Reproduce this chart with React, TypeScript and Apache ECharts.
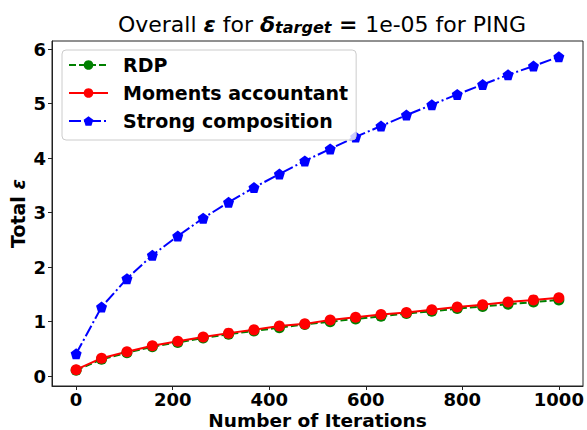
import React, { useEffect, useRef } from "react";
import * as echarts from "echarts";

// Iteration counts (20 evenly spaced steps from 0 to 1000)
const iterations = [
  0, 52.63, 105.26, 157.89, 210.53, 263.16, 315.79, 368.42, 421.05, 473.68,
  526.32, 578.95, 631.58, 684.21, 736.84, 789.47, 842.11, 894.74, 947.37, 1000,
];

// Total epsilon per accountant
const rdp = [
  0.11, 0.31, 0.43, 0.54, 0.62, 0.7, 0.77, 0.83, 0.89, 0.95, 1.0, 1.05, 1.1,
  1.15, 1.19, 1.24, 1.28, 1.32, 1.36, 1.4,
];
const moments = [
  0.12, 0.33, 0.45, 0.56, 0.64, 0.72, 0.79, 0.85, 0.92, 0.96, 1.03, 1.08, 1.13,
  1.17, 1.22, 1.27, 1.31, 1.36, 1.4, 1.44,
];
const strong = [
  0.41, 1.27, 1.79, 2.22, 2.57, 2.9, 3.19, 3.46, 3.71, 3.95, 4.17, 4.39, 4.59,
  4.79, 4.98, 5.17, 5.35, 5.53, 5.69, 5.86,
];

const xTicks = [0, 200, 400, 600, 800, 1000];
const yTicks = [0, 1, 2, 3, 4, 5, 6];

const FONT = "DejaVu Sans";
const PENTAGON =
  "path://M0,-1 L0.951,-0.309 L0.588,0.809 L-0.588,0.809 L-0.951,-0.309 Z";

const pairs = (ys: number[]) => iterations.map((x, i) => [x, ys[i]]);

export default function App() {
  const ref = useRef<HTMLDivElement>(null);

  useEffect(() => {
    if (!ref.current) return;
    const chart = echarts.init(ref.current, undefined, { renderer: "svg" });
    const base = { fontFamily: FONT, color: "#000", lineHeight: 28, verticalAlign: "bottom" };
    chart.setOption({
      animation: false,
      backgroundColor: "#ffffff",
      textStyle: { fontFamily: FONT },
      title: {
        left: 317,
        textAlign: "center",
        top: 2,
        text: "{n|Overall }{b|ε}{n| for }{b|δ}{s|target}{e| = }{n|1e-05 for PING}",
        textStyle: {
          fontWeight: "normal",
          rich: {
            n: { ...base, fontSize: 22, fontWeight: "normal" },
            b: { ...base, fontSize: 22, fontWeight: "bold", fontStyle: "italic" },
            e: { ...base, fontSize: 22, fontWeight: "bold" },
            s: { ...base, fontSize: 16, fontWeight: "bold", fontStyle: "italic", padding: [7, 0, 0, 0] },
          },
        },
      },
      grid: {
        left: 52,
        right: 4,
        top: 41,
        bottom: 44,
        containLabel: false,
        outerBoundsMode: "none",
        show: true,
        borderColor: "#222",
        borderWidth: 1,
        backgroundColor: "transparent",
      },
      legend: {
        orient: "vertical",
        left: 62,
        top: 50,
        padding: [5, 8, 9, 6],
        itemWidth: 39,
        itemHeight: 12,
        itemGap: 8,
        borderColor: "#cccccc",
        borderWidth: 1,
        borderRadius: 4,
        backgroundColor: "rgba(255,255,255,0.8)",
        textStyle: { fontFamily: FONT, fontSize: 19, lineHeight: 20, fontWeight: "bold", color: "#000", padding: [0, 0, 0, 10] },
        data: ["RDP", "Moments accountant", "Strong composition"],
      },
      xAxis: {
        type: "value",
        min: -50,
        max: 1050,
        name: "Number of Iterations",
        nameLocation: "middle",
        nameGap: 26,
        nameMoveOverlap: false,
        nameTextStyle: { fontFamily: FONT, fontSize: 18.5, lineHeight: 16, fontWeight: "bold", color: "#000" },
        axisLine: { show: true, onZero: false, lineStyle: { color: "#222", width: 1 } },
        axisTick: { show: true, customValues: xTicks, length: 4, lineStyle: { color: "#222" } },
        axisLabel: {
          customValues: xTicks,
          formatter: (v: number) => String(v),
          fontFamily: FONT,
          fontSize: 18,
          lineHeight: 15,
          fontWeight: "bold",
          color: "#000",
          margin: 6,
        },
        splitLine: { show: false },
      },
      yAxis: {
        type: "value",
        min: -0.18,
        max: 6.15,
        name: "{a|Total }{b|ε}",
        nameLocation: "middle",
        nameGap: 25,
        nameMoveOverlap: false,
        nameRotate: 90,
        nameTextStyle: {
          rich: {
            a: { fontFamily: FONT, fontSize: 19, fontWeight: "bold", color: "#000" },
            b: { fontFamily: FONT, fontSize: 19, fontWeight: "bold", fontStyle: "italic", color: "#000" },
          },
        },
        axisLine: { show: true, onZero: false, lineStyle: { color: "#222", width: 1 } },
        axisTick: { show: true, customValues: yTicks, length: 4, lineStyle: { color: "#222" } },
        axisLabel: {
          customValues: yTicks,
          formatter: (v: number) => String(v),
          fontFamily: FONT,
          fontSize: 18,
          fontWeight: "bold",
          color: "#000",
          margin: 6,
        },
        splitLine: { show: false },
      },
      series: [
        {
          name: "RDP",
          type: "line",
          data: pairs(rdp),
          symbol: "circle",
          symbolSize: 11,
          color: "#008000",
          itemStyle: { color: "#008000" },
          lineStyle: { color: "#008000", width: 2, type: [7, 3] },
        },
        {
          name: "Moments accountant",
          type: "line",
          data: pairs(moments),
          symbol: "circle",
          symbolSize: 11,
          color: "#ff0000",
          itemStyle: { color: "#ff0000" },
          lineStyle: { color: "#ff0000", width: 2 },
        },
        {
          name: "Strong composition",
          type: "line",
          data: pairs(strong),
          symbol: PENTAGON,
          symbolSize: 11,
          color: "#0000ff",
          itemStyle: { color: "#0000ff" },
          lineStyle: { color: "#0000ff", width: 2, type: [12, 3, 2, 3] },
        },
      ],
    });
    return () => chart.dispose();
  }, []);

  return (
    <div
      ref={ref}
      style={{ position: "fixed", left: 0, top: 0, width: 587, height: 430 }}
    />
  );
}
